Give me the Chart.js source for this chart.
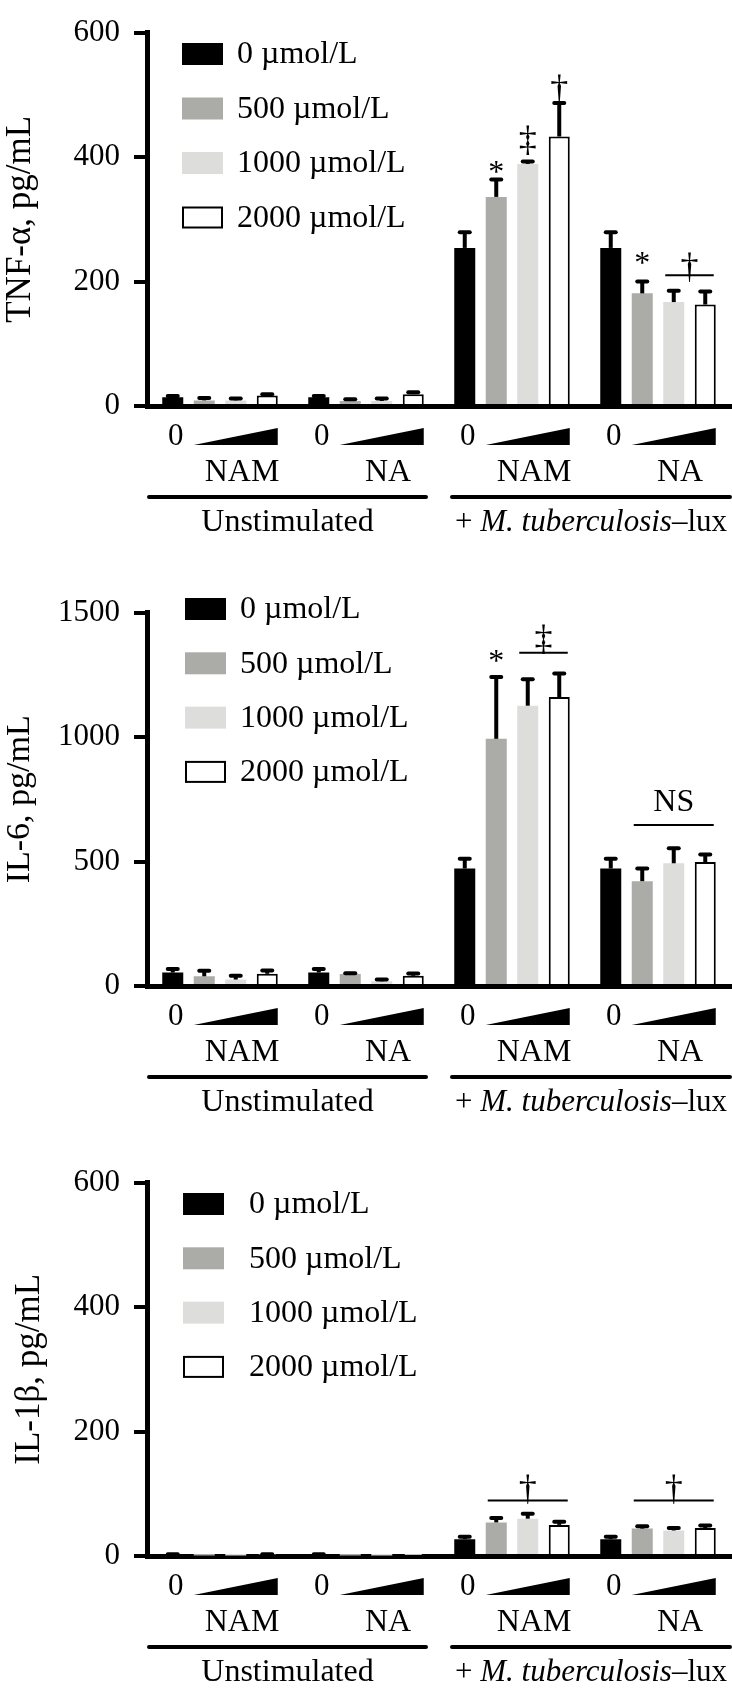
<!DOCTYPE html>
<html>
<head>
<meta charset="utf-8">
<script src="https://cdn.jsdelivr.net/npm/chart.js@4.4.1/dist/chart.umd.min.js"></script>
<style>
  body { margin: 0; background: #fff; width: 732px; height: 1690px; position: relative; overflow: hidden; }
  .panel { position: absolute; left: 0; width: 732px; height: 540px; }
</style>
</head>
<body>
<div class="panel" style="top:0"><canvas id="tnf" width="732" height="540"></canvas></div>
<div class="panel" style="top:580px"><canvas id="il6" width="732" height="540"></canvas></div>
<div class="panel" style="top:1150px"><canvas id="il1b" width="732" height="540"></canvas></div>
<script>
// groups along the x axis: unstimulated NAM, unstimulated NA, Mtb NAM, Mtb NA
const groups = ['Unstimulated NAM', 'Unstimulated NA', 'M. tuberculosis NAM', 'M. tuberculosis NA'];
const drugs = ['NAM', 'NA', 'NAM', 'NA'];
const conditions = ['Unstimulated', '+ M. tuberculosis–lux'];
const italicPart = 'M. tuberculosis';
const doses = ['0 µmol/L', '500 µmol/L', '1000 µmol/L', '2000 µmol/L'];
const fills = ['#000000', '#abaca8', '#dddedb', '#ffffff'];

// TNF-α, pg/mL (mean, upper error)
const tnf0 = [14, 14, 254, 254];
const tnf500 = [9, 8, 336, 181];
const tnf1000 = [9, 8, 389, 167];
const tnf2000 = [17, 19, 433, 163];
const tnfErr0 = [2, 2, 25, 25];
const tnfErr500 = [4, 3, 28, 19];
const tnfErr1000 = [3, 4, 4, 18];
const tnfErr2000 = [2, 3, 54, 21];
const tnfTicks = [0, 200, 400, 600];

// IL-6, pg/mL
const il60 = [54, 54, 472, 472];
const il6500 = [39, 48, 993, 421];
const il61000 = [26, 19, 1126, 493];
const il62000 = [49, 41, 1161, 498];
const il6Err0 = [14, 14, 39, 39];
const il6Err500 = [22, 3, 248, 51];
const il6Err1000 = [15, 7, 106, 60];
const il6Err2000 = [13, 9, 94, 30];
const il6Ticks = [0, 500, 1000, 1500];

// IL-1β, pg/mL
const il1b0 = [2, 2, 27, 27];
const il1b500 = [1, 1, 54, 44];
const il1b1000 = [1, 1, 60, 41];
const il1b2000 = [2, 1, 50, 45];
const il1bErr0 = [1, 1, 4, 4];
const il1bErr500 = [0, 0, 7, 4];
const il1bErr1000 = [0, 0, 8, 4];
const il1bErr2000 = [1, 0, 5, 4];
const il1bTicks = [0, 200, 400, 600];

// significance marks: group, first/last dose bar, symbol, value of symbol centre, value of bracket line
const tnfMarks = [
  { group: 2, from: 1, to: 1, text: '*', at: 384 },
  { group: 2, from: 2, to: 2, text: '‡', at: 428 },
  { group: 2, from: 3, to: 3, text: '†', at: 510 },
  { group: 3, from: 1, to: 1, text: '*', at: 238 },
  { group: 3, from: 2, to: 3, text: '†', at: 224, line: 210 }
];
const il6Marks = [
  { group: 2, from: 1, to: 1, text: '*', at: 1325 },
  { group: 2, from: 2, to: 3, text: '‡', at: 1392, line: 1339 },
  { group: 3, from: 1, to: 3, text: 'NS', at: 746, line: 647 }
];
const il1bMarks = [
  { group: 2, from: 1, to: 3, text: '†', at: 107, line: 89 },
  { group: 3, from: 1, to: 3, text: '†', at: 107, line: 89 }
];

const FONT = "'Liberation Serif', 'Times New Roman', serif";
Chart.defaults.font.family = FONT;
Chart.defaults.color = '#000';

const errorBars = {
  id: 'errorBars',
  afterDatasetsDraw(chart) {
    const { ctx } = chart;
    const y = chart.scales.y;
    ctx.save();
    ctx.strokeStyle = '#000';
    ctx.lineWidth = 4;
    chart.data.datasets.forEach((ds, i) => {
      chart.getDatasetMeta(i).data.forEach((bar, j) => {
        const err = ds.errors[j];
        if (!err) return;
        const top = y.getPixelForValue(ds.data[j]);
        const cap = y.getPixelForValue(ds.data[j] + err);
        ctx.lineCap = 'butt';
        ctx.beginPath(); ctx.moveTo(bar.x, top); ctx.lineTo(bar.x, cap); ctx.stroke();
        ctx.lineCap = 'round';
        ctx.beginPath(); ctx.moveTo(bar.x - 5, cap); ctx.lineTo(bar.x + 5, cap); ctx.stroke();
      });
    });
    ctx.restore();
  }
};

// "0", dose wedge, drug name and condition brackets under the x axis
const axisLabels = {
  id: 'axisLabels',
  afterDraw(chart) {
    const { ctx, chartArea } = chart;
    const xs = chart.scales.x;
    const base = chartArea.bottom;
    ctx.save();
    ctx.fillStyle = '#000';
    ctx.strokeStyle = '#000';
    ctx.textAlign = 'center';
    ctx.textBaseline = 'middle';
    groups.forEach((g, j) => {
      const bars = [0, 1, 2, 3].map(i => chart.getDatasetMeta(i).data[j]);
      ctx.font = '31px ' + FONT;
      ctx.fillText('0', bars[0].x + 3, base + 31);
      const x0 = bars[1].x - bars[1].width / 2;
      const x1 = bars[3].x + bars[3].width / 2;
      ctx.beginPath();
      ctx.moveTo(x0, base + 39);
      ctx.lineTo(x1, base + 22);
      ctx.lineTo(x1, base + 39);
      ctx.closePath();
      ctx.fill();
      ctx.font = '32px ' + FONT;
      ctx.fillText(drugs[j], xs.getPixelForValue(j) + 22, base + 67);
    });
    const mid = (xs.getPixelForValue(1) + xs.getPixelForValue(2)) / 2;
    const spans = [[chartArea.left + 2, mid - 13], [mid + 13, chartArea.right - 1]];
    ctx.lineWidth = 4;
    ctx.lineCap = 'round';
    spans.forEach(([a, b], k) => {
      ctx.beginPath(); ctx.moveTo(a, base + 91); ctx.lineTo(b, base + 91); ctx.stroke();
      const cx = (a + b) / 2;
      const text = conditions[k];
      const cut = text.indexOf(italicPart);
      if (cut < 0) {
        ctx.font = '32px ' + FONT;
        ctx.fillText(text, cx, base + 117);
        return;
      }
      const parts = [
        [text.slice(0, cut), '31px ' + FONT],
        [italicPart, 'italic 31px ' + FONT],
        [text.slice(cut + italicPart.length), '31px ' + FONT]
      ];
      const widths = parts.map(([t, f]) => { ctx.font = f; return ctx.measureText(t).width; });
      let x = cx - widths.reduce((s, w) => s + w, 0) / 2;
      ctx.textAlign = 'left';
      parts.forEach(([t, f], n) => { ctx.font = f; ctx.fillText(t, x, base + 117); x += widths[n]; });
      ctx.textAlign = 'center';
    });
    ctx.restore();
  }
};

function doseLegend(pos) {
  return {
    id: 'doseLegend',
    afterDraw(chart) {
      const { ctx } = chart;
      ctx.save();
      ctx.font = '32px ' + FONT;
      ctx.textBaseline = 'middle';
      ctx.textAlign = 'left';
      chart.data.datasets.forEach((ds, i) => {
        const cy = pos.top + i * pos.step;
        ctx.fillStyle = ds.backgroundColor;
        ctx.fillRect(pos.left, cy - 11, 41, 22);
        if (ds.borderWidth) {
          ctx.strokeStyle = '#000';
          ctx.lineWidth = 2;
          ctx.strokeRect(pos.left + 1, cy - 10, 39, 20);
        }
        ctx.fillStyle = '#000';
        ctx.fillText(ds.label, pos.text, cy + 1);
      });
      ctx.restore();
    }
  };
}

function sigMarks(marks) {
  return {
    id: 'sigMarks',
    afterDraw(chart) {
      const { ctx } = chart;
      const y = chart.scales.y;
      ctx.save();
      ctx.fillStyle = '#000';
      ctx.strokeStyle = '#000';
      ctx.textAlign = 'center';
      ctx.textBaseline = 'alphabetic';
      marks.forEach(m => {
        const a = chart.getDatasetMeta(m.from).data[m.group];
        const b = chart.getDatasetMeta(m.to).data[m.group];
        let cx = (a.x + b.x) / 2;
        if (m.line != null) {
          const x0 = a.x - a.width / 2 + 2;
          const x1 = b.x + b.width / 2 - 2;
          const ly = y.getPixelForValue(m.line);
          ctx.lineWidth = 2;
          ctx.beginPath(); ctx.moveTo(x0, ly); ctx.lineTo(x1, ly); ctx.stroke();
          cx = (x0 + x1) / 2;
        }
        ctx.font = (m.text === '*' || m.text === 'NS' ? '32px ' : '36px ') + FONT;
        const tm = ctx.measureText(m.text);
        const cy = y.getPixelForValue(m.at);
        ctx.fillText(m.text, cx, cy + (tm.actualBoundingBoxAscent - tm.actualBoundingBoxDescent) / 2);
      });
      ctx.restore();
    }
  };
}

function makeChart(id, spec) {
  new Chart(document.getElementById(id), {
    type: 'bar',
    data: {
      labels: groups,
      datasets: spec.values.map((v, i) => ({
        label: doses[i],
        data: v,
        errors: spec.errors[i],
        backgroundColor: fills[i],
        borderColor: '#000',
        borderWidth: i === 3 ? 2 : 0
      }))
    },
    options: {
      responsive: false,
      animation: false,
      devicePixelRatio: 1,
      categoryPercentage: 0.863,
      barPercentage: 0.667,
      layout: { padding: { top: 18, right: 1, left: 0, bottom: 0 } },
      plugins: { legend: { display: false }, tooltip: { enabled: false } },
      scales: {
        x: {
          z: 1,
          grid: { display: false },
          ticks: { display: false },
          border: { display: true, width: 5, color: '#000' },
          afterFit(scale) { scale.height = 134; }
        },
        y: {
          min: spec.ticks[0],
          max: spec.ticks[spec.ticks.length - 1],
          afterBuildTicks(scale) { scale.ticks = spec.ticks.map(v => ({ value: v })); },
          ticks: { font: { size: 31 }, color: '#000', padding: 14, callback: v => String(v) },
          grid: { display: true, drawOnChartArea: false, drawTicks: true, tickLength: 13, lineWidth: 4, tickWidth: 4, color: '#000', tickColor: '#000' },
          border: { display: true, width: 5, color: '#000' },
          title: { display: true, text: spec.title, font: { size: spec.titleSize }, color: '#000', padding: { top: spec.titlePad, bottom: 0 } },
          afterFit(scale) { scale.width = 147; }
        }
      }
    },
    plugins: [errorBars, axisLabels, doseLegend(spec.legend), sigMarks(spec.marks)]
  });
}

makeChart('tnf', {
  title: 'TNF-α, pg/mL',
  titleSize: 35,
  titlePad: 0,
  values: [tnf0, tnf500, tnf1000, tnf2000],
  errors: [tnfErr0, tnfErr500, tnfErr1000, tnfErr2000],
  ticks: tnfTicks,
  marks: tnfMarks,
  legend: { left: 182, top: 54, step: 54.5, text: 237 }
});
makeChart('il6', {
  title: 'IL-6, pg/mL',
  titleSize: 34,
  titlePad: 0,
  values: [il60, il6500, il61000, il62000],
  errors: [il6Err0, il6Err500, il6Err1000, il6Err2000],
  ticks: il6Ticks,
  marks: il6Marks,
  legend: { left: 185, top: 29, step: 54.3, text: 240 }
});
makeChart('il1b', {
  title: 'IL-1β, pg/mL',
  titleSize: 35,
  titlePad: 9,
  values: [il1b0, il1b500, il1b1000, il1b2000],
  errors: [il1bErr0, il1bErr500, il1bErr1000, il1bErr2000],
  ticks: il1bTicks,
  marks: il1bMarks,
  legend: { left: 183, top: 54, step: 54.3, text: 249 }
});
</script>
</body>
</html>
